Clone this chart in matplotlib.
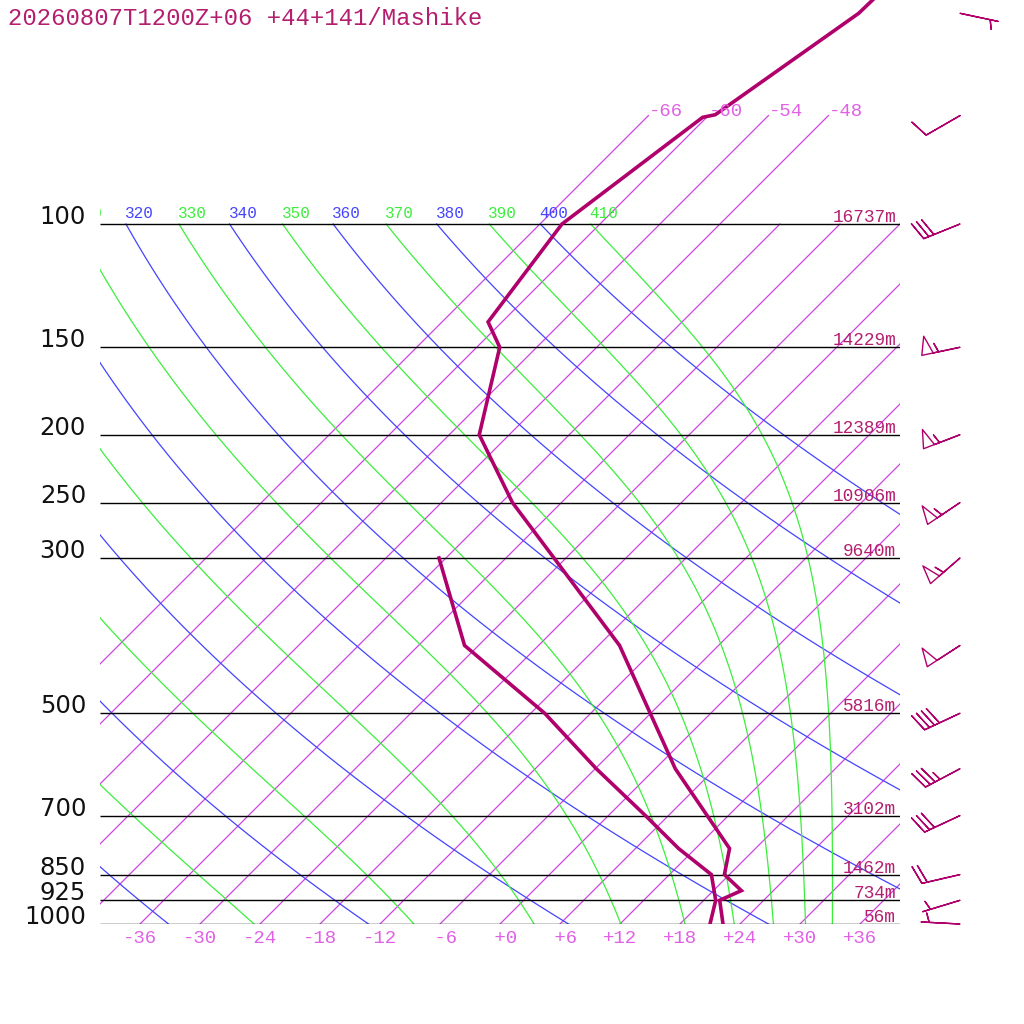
import numpy as np
import matplotlib
matplotlib.use("Agg")
import matplotlib.pyplot as plt
import matplotlib.transforms as mtransforms

# sounding values
levels = [1000, 925, 850, 700, 500, 300, 250, 200, 150, 100]
heights = [56, 734, 1462, 3102, 5816, 9640, 10906, 12389, 14229, 16737]

temp_p = [1000, 925, 896, 850, 780, 600, 400, 250, 200, 150, 138, 100, 70.4, 69.8, 50, 40]
temp_c = [22.3, 19.6, 20.8, 17.5, 15.4, 2.0, -15.9, -40.9, -51.0, -57.7, -61.4, -63.8,
          -60.4, -59.4, -55.2, -54.9]

dew_p = [1000, 925, 850, 780, 700, 600, 500, 400, 300]
dew_c = [21.0, 19.2, 16.2, 10.3, 3.7, -5.9, -16.6, -31.4, -42.7]

wind_p = [1000, 925, 850, 700, 600, 500, 400, 300, 250, 200, 150, 100, 70, 50]
wind_dir = [273, 253, 257, 245, 242, 245, 237, 229, 236, 249, 258, 248, 240, 102]
wind_kt = [5, 5, 20, 30, 35, 40, 50, 55, 55, 55, 55, 30, 10, 5]

isotherms = list(range(-66, 37, 6))
top_isotherms = [-66, -60, -54, -48]
dry_thetas = list(range(240, 401, 20))
moist_thetas = list(range(250, 411, 20))

title = "20260807T1200Z+06 +44+141/Mashike"

c_prof = '#b0006b'
c_text = '#b41e6e'
c_iso = '#cc44e0'
c_iso_lbl = '#e060e6'
c_blue = '#4444ff'
c_green = '#3cee3c'
mono = 'Liberation Mono'


def theta_e(tc, p):
    # Bolton (1980), saturated air
    tk = tc + 273.15
    es = 6.112 * np.exp(17.67 * tc / (tc + 243.5))
    r = 622.0 * es / (p - es)
    return (tk * (1000.0 / p) ** (0.2854 * (1 - 0.00028 * r))
            * np.exp((3.376 / tk - 0.00254) * r * (1 + 0.00081 * r)))


def moist_temp(the, p):
    lo = np.full_like(p, -160.0)
    hi = np.full_like(p, 40.0)
    for _ in range(60):
        mid = 0.5 * (lo + hi)
        big = theta_e(mid, p) > the
        hi = np.where(big, mid, hi)
        lo = np.where(big, lo, mid)
    return 0.5 * (lo + hi)


fig = plt.figure(figsize=(10.24, 10.24), dpi=100)
W, H = 800, 924
p_top = 1000 * np.exp(-H / 304.0)

ax = fig.add_axes([100 / 1024, 100 / 1024, W / 1024, H / 1024])
ax.set_yscale('log')
ax.set_xlim(-40, 40)
ax.set_ylim(1000, p_top)
ax.axis('off')

skew = (ax.transScale + ax.transLimits
        + mtransforms.Affine2D().skew(np.arctan(H / W), 0) + ax.transAxes)

pp = np.geomspace(1000, 100, 80)
thin = dict(lw=0.9, transform=skew)

# isotherms
for t in isotherms:
    ptop = 70 if t in top_isotherms else 100
    ax.plot([t, t], [1000, ptop], color=c_iso, **thin)

# dry adiabats
for th in dry_thetas:
    ax.plot(th * (pp / 1000) ** 0.2857 - 273.15, pp, color=c_blue, **thin)

# moist adiabats
for th in moist_thetas:
    ax.plot(moist_temp(th, pp), pp, color=c_green, **thin)

# labels above 100 hPa (only those that reach the plot area)
lbl_tr = mtransforms.offset_copy(skew, fig=fig, x=-1, y=6, units='dots')
for th in dry_thetas:
    t100 = th * 0.1 ** 0.2857 - 273.15
    if t100 > -113:
        ax.text(t100, 100, str(th), color=c_blue, fontsize=11.5, family=mono,
                ha='left', va='baseline', transform=lbl_tr, clip_on=True)
for th in moist_thetas:
    t100 = moist_temp(th, np.array([100.0]))[0]
    if t100 > -113:
        ax.text(t100, 100, str(th), color=c_green, fontsize=11.5, family=mono,
                ha='left', va='baseline', transform=lbl_tr, clip_on=True)

for t in top_isotherms:
    ax.text(t, 70, f"{t:+d}", color=c_iso_lbl, fontsize=13.7, family=mono,
            ha='left', va='baseline', transform=skew)

bot_tr = mtransforms.offset_copy(skew, fig=fig, x=0, y=-19, units='dots')
for t in isotherms:
    if t >= -36:
        ax.text(t, 1000, f"{f'{t:+d}':>3}", color=c_iso_lbl, fontsize=13.7, family=mono,
                ha='center', va='baseline', transform=bot_tr)

# pressure levels
ax.hlines(levels, -40, 40, colors='black', lw=1.0)
plab_tr = mtransforms.offset_copy(ax.get_yaxis_transform(), fig=fig, x=-14, y=0, units='dots')
hlab_tr = mtransforms.offset_copy(ax.get_yaxis_transform(), fig=fig, x=-4, y=2, units='dots')
for p, h in zip(levels, heights):
    ax.text(0, p, str(p), fontsize=17.5, family='DejaVu Sans', color='#111111',
            ha='right', va='baseline', transform=plab_tr)
    ax.text(1, p, f"{h}m", fontsize=12.8, family=mono, color=c_text,
            ha='right', va='baseline', transform=hlab_tr)

# profiles
ax.plot(temp_c, temp_p, color=c_prof, lw=2.6, transform=skew, solid_joinstyle='miter')
ax.plot(dew_c, dew_p, color=c_prof, lw=2.6, transform=skew, solid_joinstyle='miter')

# wind barbs
bax = fig.add_axes([900 / 1024, 100 / 1024, 124 / 1024, H / 1024])
bax.set_yscale('log')
bax.set_xlim(0, 124)
bax.set_ylim(1000, p_top)
bax.axis('off')
d = np.radians(wind_dir)
spd = np.array(wind_kt, dtype=float)
u = -spd * np.sin(d)
v = -spd * np.cos(d)
bax.barbs(np.full(len(wind_p), 60.0), wind_p, u, v, length=7.5,
          barbcolor=c_prof, flagcolor='none', linewidth=1.0,
          sizes=dict(spacing=0.14, height=0.47, width=0.3, emptybarb=0.1),
          clip_on=False)

fig.text(8 / 1024, 1 - 25 / 1024, title, fontsize=17.2, family=mono, color=c_text,
         ha='left', va='baseline')

fig.savefig('out.png', dpi=100)
